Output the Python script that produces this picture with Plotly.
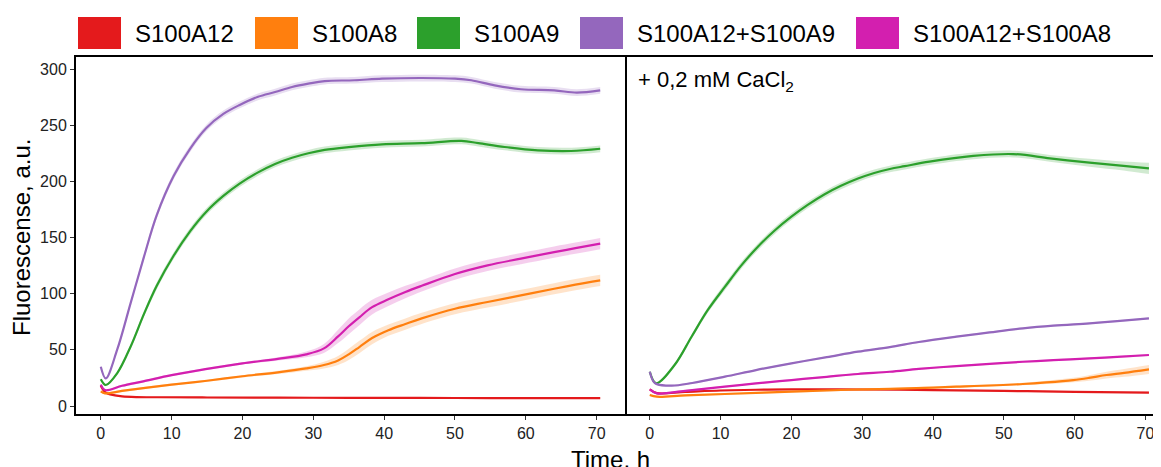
import plotly.graph_objects as go

# ---------------- data ----------------
series_names = ["S100A12", "S100A8", "S100A9", "S100A12+S100A9", "S100A12+S100A8"]
series_colors = ["#E41A1C", "#FF7F0E", "#2CA02C", "#9467BD", "#D31FAF"]
panel_label = "+ 0,2 mM CaCl<sub>2</sub>"
x_ticks = [0, 10, 20, 30, 40, 50, 60, 70]
y_ticks = [0, 50, 100, 150, 200, 250, 300]
x_title = "Time, h"
y_title = "Fluorescense, a.u."

# Panel 1 (no CaCl2)
t_red1 = [0, 0.5, 1, 2, 3, 5, 8, 15, 25, 35, 45, 55, 65, 70.5]
red1 = [18, 13, 11, 9.5, 8.6, 8, 7.8, 7.6, 7.4, 7.3, 7.2, 7.1, 7.0, 7.0]
sd_red1 = [0.6] * 14

t_orange1 = [0, 0.6, 3, 6, 10, 15, 20, 25, 29, 31.5, 33.5, 35, 36.5, 38.3, 40.6, 43, 45.3, 50, 54.6, 59.3, 64, 67, 70.5]
orange1 = [13, 11.3, 13.5, 16, 19, 22.5, 26.5, 30, 33.5, 36.5, 40.6, 46, 52.5, 60.5, 67.5, 73, 78, 86.6, 92.6, 98.5, 104.4, 108, 111.9]
sd_orange1 = [1, 1, 1, 1, 1, 1, 1, 1.5, 2, 3, 4, 5, 5.5, 5.5, 5, 5, 5, 5, 5, 5, 5, 5, 5]

t_magenta1 = [0, 0.6, 3, 6, 10, 15, 20, 25, 29, 31.5, 33.5, 35, 36.5, 38.3, 40.6, 43, 45.3, 50, 54.6, 59.3, 64, 67, 70.5]
magenta1 = [19, 14.2, 18, 22, 27.5, 33, 38, 42, 46, 51.3, 62, 71, 79, 88, 95, 101.5, 107, 117.5, 125.2, 131.2, 137, 140.5, 144.5]
sd_magenta1 = [1, 1, 1, 1, 1, 1, 1, 1.5, 2.5, 4, 6, 7, 7, 6.5, 6, 5.5, 5, 5, 5, 5, 5, 5, 5]

t_green1 = [0, 0.7, 2.3, 4.2, 6.1, 7.9, 10.3, 12.6, 14.9, 17.3, 19.6, 22.2, 24.6, 27, 29.3, 31.6, 35, 39.7, 45.3, 50.9, 53.3, 57, 61.7, 66.4, 70.5]
green1 = [23.8, 18.7, 29.1, 52.8, 82, 107, 134, 155.5, 173, 187, 198, 208, 215.5, 221, 225, 228, 230.5, 233, 234, 236, 234, 230.6, 227.6, 227, 229]
sd_green1 = [1, 1, 1.5, 2, 2.5, 3, 3, 3, 3, 3, 3, 3, 3, 3, 3, 3, 3, 3, 3, 3, 3, 3, 3, 3, 3]

t_purple1 = [0, 0.7, 2.3, 4.2, 6.1, 7.9, 10.3, 12.6, 14.9, 17.3, 19.6, 22.2, 24.6, 27, 29.3, 31.6, 35.8, 39.7, 45.3, 50, 52.3, 55.6, 59.3, 64, 67.2, 70.5]
purple1 = [35, 24.6, 49.9, 91.4, 133, 170, 205, 229, 247.5, 260, 268, 275.3, 279.5, 284, 287, 289.3, 290, 291.4, 292, 291.4, 290, 285.5, 282, 281, 279, 281]
sd_purple1 = [1, 1, 1.5, 2, 2.5, 3, 3, 3, 3, 3, 3, 3, 3, 3, 3, 3, 3, 3, 3, 3, 3, 3, 3, 3, 3, 3]

# Panel 2 (+ 0,2 mM CaCl2)
t_red2 = [0, 1, 5, 10, 15, 20, 30, 40, 50, 60, 70.5]
red2 = [14.8, 11.5, 12.5, 13.8, 14.5, 14.8, 14.7, 14.2, 13.5, 12.6, 12]
sd_red2 = [0.6] * 11

t_orange2 = [0, 1, 5, 10.6, 20, 28, 33.9, 43.3, 52.7, 56, 59.8, 62, 64.5, 67, 70.5]
orange2 = [9.8, 8.3, 9.5, 10.7, 12.8, 14.5, 15.2, 17.2, 19.6, 21, 23.1, 25, 27.6, 29.5, 32.6]
sd_orange2 = [0.8, 0.8, 0.8, 0.8, 0.8, 0.8, 0.8, 1, 1.2, 1.5, 2, 2.5, 3, 3.5, 4]

t_green2 = [0, 0.9, 3.5, 5.9, 8.2, 10.6, 12.9, 15.3, 17.6, 20, 22.3, 24.7, 27, 29.4, 31.7, 33.9, 36, 39.5, 45.7, 51.3, 56.5, 62.1, 66.9, 70.5]
green2 = [30.5, 20.2, 36.5, 61.7, 85.5, 106, 125, 142, 156, 168.5, 179, 188.5, 196, 202.5, 207.5, 211, 213.5, 217.5, 222.6, 224.3, 220.5, 216.6, 213.7, 211.6]
sd_green2 = [1, 1, 1.5, 2, 2.5, 3, 3, 3, 3, 3, 3, 3, 3, 3, 3, 3, 3, 3, 3, 3, 3, 3.5, 4, 5]

t_purple2 = [0, 0.5, 1, 3.1, 6, 10.6, 15, 20, 25, 29.4, 33.9, 38, 43.3, 48, 52.7, 57, 62.1, 66, 70.5]
purple2 = [30.5, 22, 19.5, 18.1, 20.5, 26.1, 32, 38, 43.5, 48.4, 52.5, 57, 61.7, 65.5, 69.1, 71.5, 73.6, 75.5, 78]
sd_purple2 = [0.8] * 19

t_magenta2 = [0, 1, 5, 10.6, 15, 20, 25, 29.4, 33.9, 38, 43.3, 48, 52.7, 57, 62.1, 66, 70.5]
magenta2 = [14.8, 11.3, 13.5, 17.2, 20.2, 23.1, 26, 28.5, 30.5, 33, 35.6, 37.5, 39.4, 40.8, 42.4, 43.7, 45.4]
sd_magenta2 = [0.8] * 17

panel1 = [(t_red1, red1, sd_red1), (t_orange1, orange1, sd_orange1), (t_green1, green1, sd_green1),
          (t_purple1, purple1, sd_purple1), (t_magenta1, magenta1, sd_magenta1)]
panel2 = [(t_red2, red2, sd_red2), (t_orange2, orange2, sd_orange2), (t_green2, green2, sd_green2),
          (t_purple2, purple2, sd_purple2), (t_magenta2, magenta2, sd_magenta2)]

# ---------------- layout geometry ----------------
# the page body has an 8px margin, so the figure starts at (8, 8) in the window
OFF = 8
W, H = 1161 - OFF, 467 - OFF
ML, MR, MT, MB = 76 - OFF, 0, 57 - OFF, 53
PW, PH = W - ML - MR, H - MT - MB
split = (625 - OFF - ML) / PW
FONT = "Liberation Sans, Arial, Helvetica, sans-serif"


def px(x):
    # window pixel x -> paper coordinate
    return (x - OFF - ML) / PW


def py(y):
    # window pixel y -> paper coordinate
    return (H - MB - (y - OFF)) / PH


def rgba(hexc, a):
    h = hexc.lstrip("#")
    return "rgba(%d,%d,%d,%.2f)" % (int(h[0:2], 16), int(h[2:4], 16), int(h[4:6], 16), a)


fig = go.Figure()
LINE = dict(shape="spline", smoothing=1.0)

for panel, xa, ya in [(panel1, "x", "y"), (panel2, "x2", "y2")]:
    for (t, v, sd), col in zip(panel, series_colors):
        upper = [a + b for a, b in zip(v, sd)]
        lower = [a - b for a, b in zip(v, sd)]
        fig.add_trace(go.Scatter(x=t, y=upper, mode="lines", line=dict(width=0, **LINE),
                                 xaxis=xa, yaxis=ya, showlegend=False, hoverinfo="skip"))
        fig.add_trace(go.Scatter(x=t, y=lower, mode="lines", line=dict(width=0, **LINE),
                                 fill="tonexty", fillcolor=rgba(col, 0.22),
                                 xaxis=xa, yaxis=ya, showlegend=False, hoverinfo="skip"))
    for (t, v, sd), col, name in zip(panel, series_colors, series_names):
        fig.add_trace(go.Scatter(x=t, y=v, mode="lines", name=name,
                                 line=dict(color=col, width=2.2, **LINE),
                                 xaxis=xa, yaxis=ya, showlegend=False))

axis_common = dict(showgrid=False, zeroline=False, showline=True, linecolor="black", linewidth=2,
                   ticks="outside", ticklen=4, tickwidth=1, tickcolor="#333", automargin=False,
                   tickfont=dict(family=FONT, size=16, color="#222"))

fig.update_layout(
    width=W, height=H,
    margin=dict(l=ML, r=MR, t=MT, b=MB, autoexpand=False),
    paper_bgcolor="white", plot_bgcolor="white",
    showlegend=False,
    font=dict(family=FONT, color="black"),
    xaxis=dict(domain=[0, split], range=[-3.5, 74], tickvals=x_ticks, mirror=True, **axis_common),
    xaxis2=dict(domain=[split, 1], range=[-3.5, 72.2], tickvals=x_ticks, mirror=True, anchor="y2", **axis_common),
    yaxis=dict(range=[-7.1, 310.7], tickvals=y_ticks, mirror=True, anchor="x", **axis_common),
    yaxis2=dict(range=[-7.1, 310.7], tickvals=y_ticks, anchor="x2", showgrid=False, zeroline=False,
                automargin=False, showline=False, showticklabels=False, ticks=""),
)

annotations = [
    dict(text=x_title, x=px(610), y=py(459), xref="paper", yref="paper", xanchor="center", yanchor="middle",
         showarrow=False, font=dict(family=FONT, size=24, color="black")),
    dict(text=y_title, x=px(21), y=py(238), xref="paper", yref="paper", xanchor="center", yanchor="middle",
         textangle=-90, showarrow=False, font=dict(family=FONT, size=24, color="black")),
    dict(text=panel_label, x=px(636), y=py(81), xref="paper", yref="paper", xanchor="left", yanchor="middle",
         showarrow=False, font=dict(family=FONT, size=22, color="black")),
]

shapes = []
swatch_x = [78, 255, 417, 580, 856]
for x0, col, name in zip(swatch_x, series_colors, series_names):
    shapes.append(dict(type="rect", xref="paper", yref="paper", x0=px(x0), x1=px(x0 + 43), y0=py(49), y1=py(17),
                       fillcolor=col, line=dict(width=0)))
    annotations.append(dict(text=name, x=px(x0 + 55), y=py(33), xref="paper", yref="paper", xanchor="left",
                            yanchor="middle", showarrow=False, font=dict(family=FONT, size=24, color="black")))

fig.update_layout(annotations=annotations, shapes=shapes)
fig.write_html("out.html")
